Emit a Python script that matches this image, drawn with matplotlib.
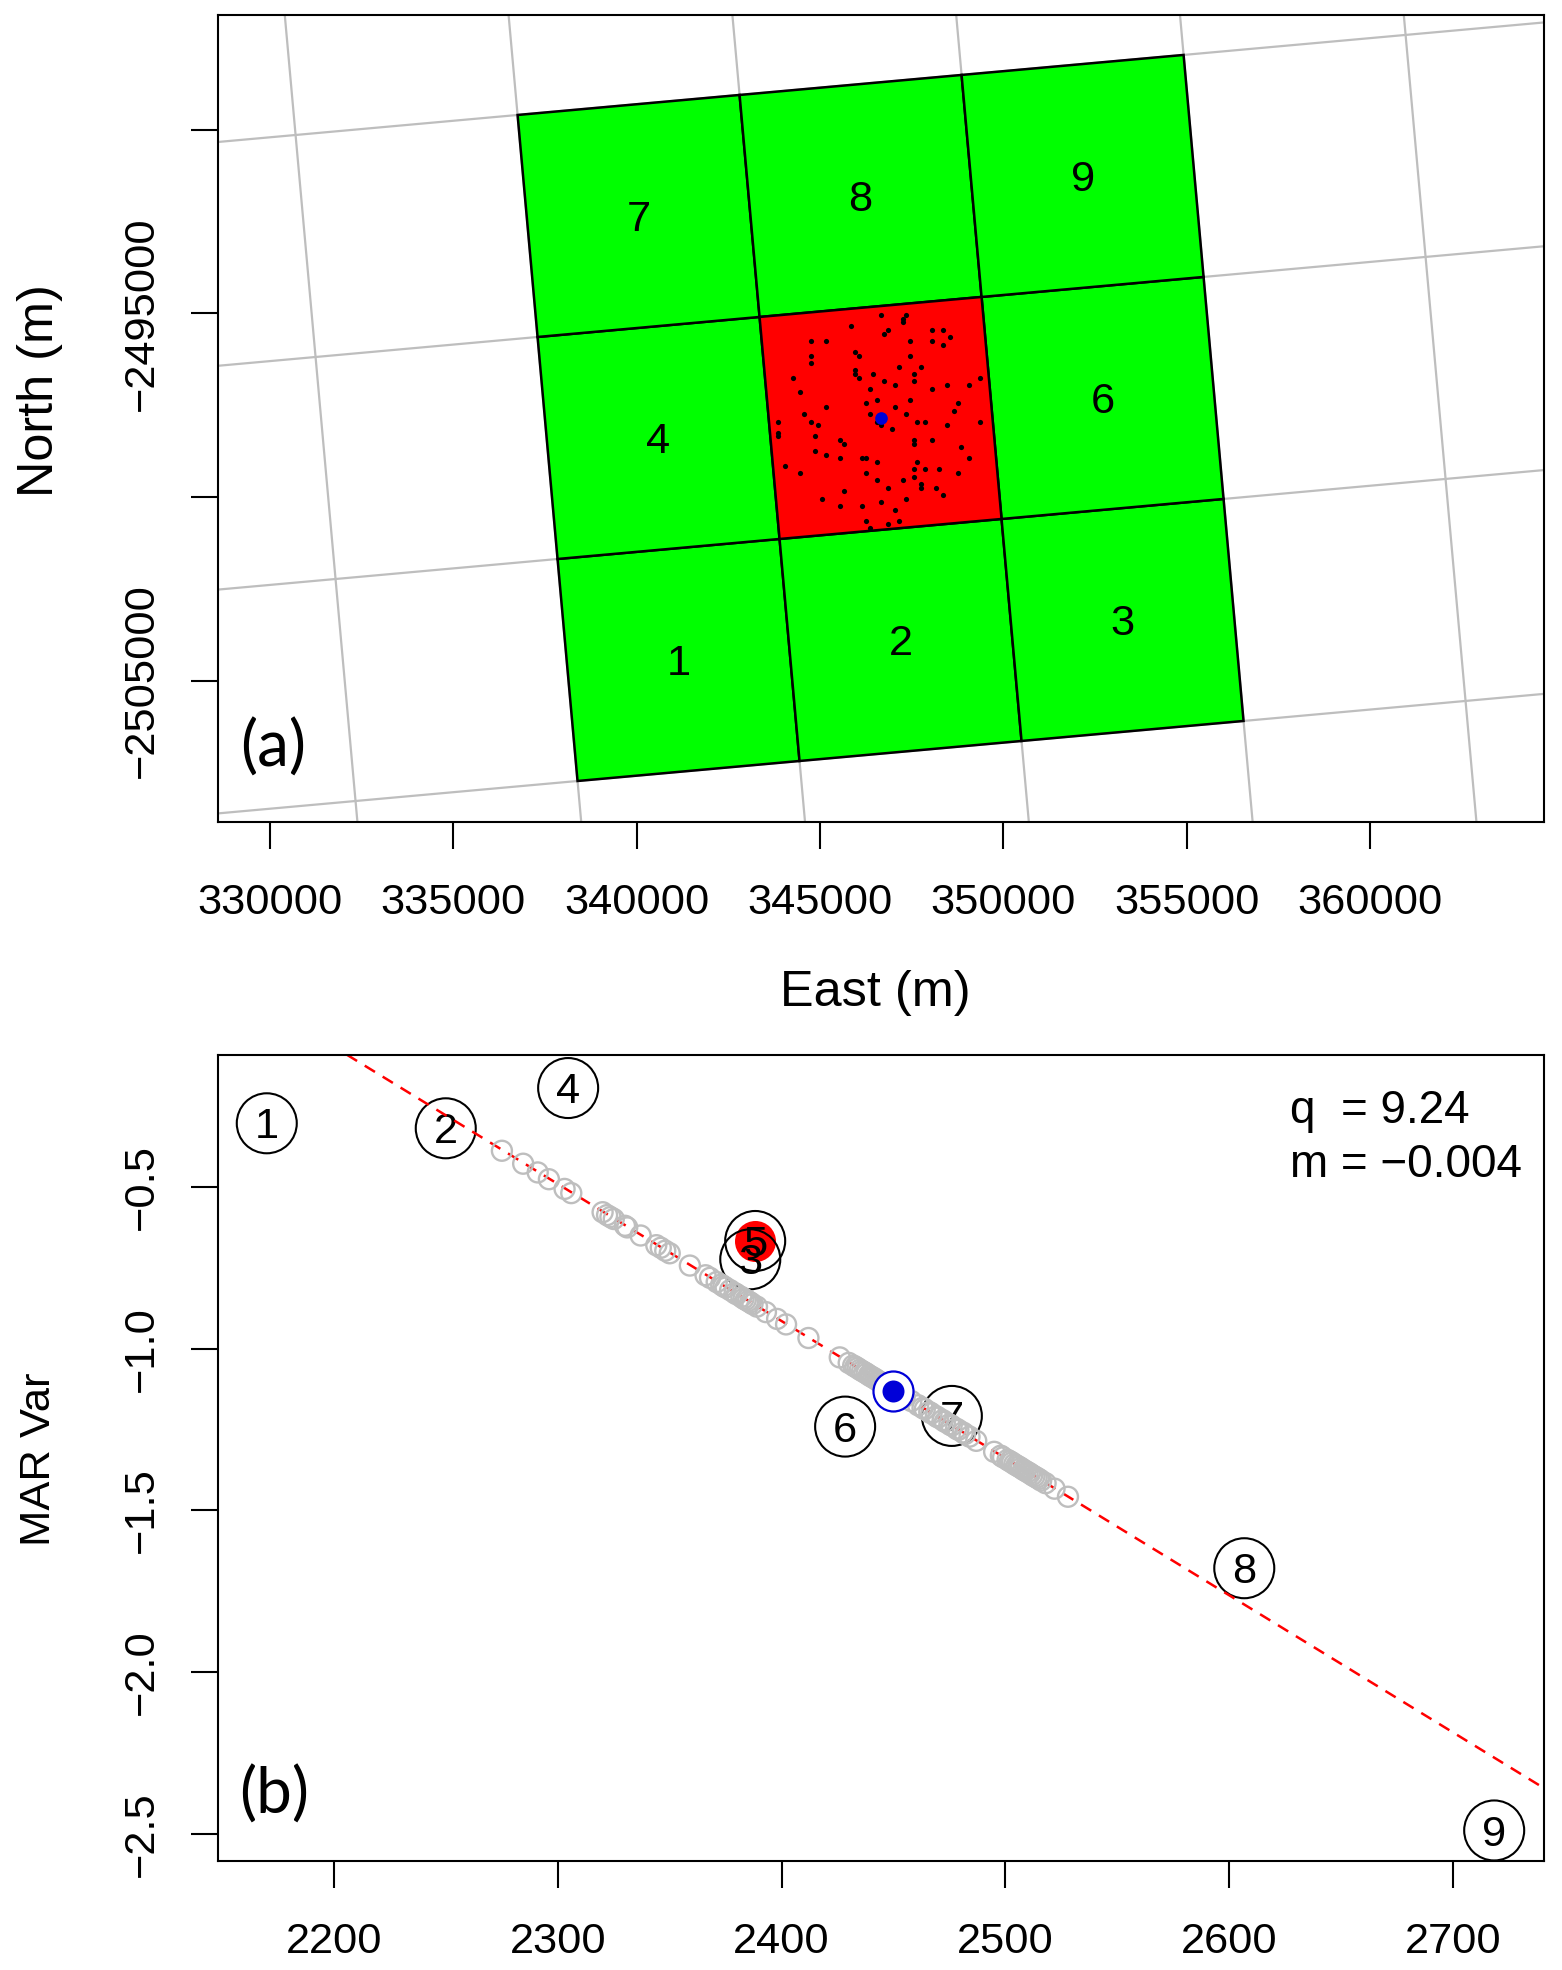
import numpy as np
import matplotlib
matplotlib.use("Agg")
import matplotlib.pyplot as plt
from matplotlib.patches import Polygon

# ---------- data: panel (a) ----------
east_ticks = [330000, 335000, 340000, 345000, 350000, 355000, 360000]
north_ticks = [-2490000, -2495000, -2500000, -2505000]
north_tick_labels = ["", "\u22122495000", "", "\u22122505000"]
centre_east, centre_north = 346650, -2497850
cell_east_vec = (6054, 545)
cell_north_vec = (-545, 6046)
cell_cols = [-1, 0, 1, -1, 1, -1, 0, 1]
cell_rows = [-1, -1, -1, 0, 0, 1, 1, 1]
cell_labels = ["1", "2", "3", "4", "6", "7", "8", "9"]
grid_col_edges = [-2.5, -1.5, -0.5, 0.5, 1.5, 2.5, 3.5]
grid_row_edges = [-2.5, -1.5, -0.5, 0.5, 1.5]
# site offsets from the cell centre, in hundreds of metres
site_e = [0, 7, 6, 6, -8, 2, 1, 14, 17, 19, -19, -15, 8, 14, 17, -7, -6, -19, 8, -19,
          5, 11, -7, -7, -6, -2, 9, -24, 27, 1, 9, 4, 18, 24, -3, 14, -22, -1, 8, -4,
          21, -15, 4, 20, -21, -3, 7, -28, -19, -1, 10, 12, 27, -17, 0, 18, 3, -28, -28, -18,
          -11, 9, 9, 14, -10, 22, -18, -15, -11, -5, -4, 24, -1, 10, -26, 9, 12, 16, -22, -4,
          21, 9, -1, 6, 11, 11, 2, 15, -10, 17, -16, 7, 0, -11, -5, 4, -4, 5, 2, -3]
site_n = [28, 28, 27, 26, 25, 24, 23, 24, 24, 22, 21, 21, 21, 21, 20, 18, 17, 17, 17, 15,
          14, 14, 13, 12, 11, 12, 12, 11, 11, 10, 10, 9, 9, 9, 8, 8, 7, 5, 5, 4,
          4, 3, 3, 2, 1, 1, 1, -1, -1, -1, -1, -1, -1, -2, -2, -2, -3, -4, -5, -5,
          -6, -6, -7, -6, -7, -8, -9, -10, -11, -11, -11, -11, -12, -12, -13, -14, -14, -14, -15, -15,
          -15, -16, -17, -17, -18, -19, -19, -19, -20, -21, -22, -22, -23, -24, -24, -25, -28, -28, -29, -30]

# ---------- data: panel (b) ----------
elev_ticks = [2200, 2300, 2400, 2500, 2600, 2700]
var_ticks = [-0.5, -1.0, -1.5, -2.0, -2.5]
var_tick_labels = ["\u22120.5", "\u22121.0", "\u22121.5", "\u22122.0", "\u22122.5"]
site_elev = [2275, 2284.5, 2291, 2296, 2303, 2306, 2320, 2322, 2323.5, 2325, 2330, 2331, 2337,
             2344, 2346, 2348, 2350, 2359, 2366, 2368, 2371, 2373, 2375, 2377, 2380, 2382,
             2384, 2386, 2389, 2393, 2398, 2402, 2412, 2426, 2430, 2432, 2434, 2436, 2438,
             2440, 2442, 2444, 2446, 2448, 2451, 2453, 2455, 2458, 2461, 2464, 2467, 2470,
             2473, 2476, 2479, 2482, 2487, 2495, 2498, 2501, 2503, 2505, 2508, 2510, 2512,
             2514, 2518, 2522, 2528,
             2374, 2379, 2383, 2385, 2387, 2433, 2435, 2437, 2439, 2441, 2443, 2445,
             2463, 2466, 2469, 2472, 2475, 2478, 2481, 2484,
             2499, 2502, 2504, 2506, 2507, 2509, 2511, 2513, 2515, 2516]
site_var = [-0.388, -0.428, -0.455, -0.476, -0.506, -0.519, -0.578, -0.587, -0.593, -0.599, -0.620,
            -0.625, -0.650, -0.680, -0.688, -0.697, -0.705, -0.743, -0.773, -0.781, -0.794, -0.802,
            -0.811, -0.819, -0.832, -0.840, -0.849, -0.857, -0.870, -0.887, -0.908, -0.925, -0.967,
            -1.027, -1.044, -1.052, -1.060, -1.069, -1.077, -1.086, -1.094, -1.103, -1.111, -1.120,
            -1.132, -1.141, -1.149, -1.162, -1.175, -1.187, -1.200, -1.213, -1.226, -1.238, -1.251,
            -1.264, -1.285, -1.319, -1.331, -1.344, -1.352, -1.361, -1.374, -1.382, -1.391, -1.399,
            -1.416, -1.433, -1.458,
            -0.807, -0.828, -0.845, -0.853, -0.862, -1.056, -1.065, -1.073, -1.082, -1.090, -1.099, -1.107,
            -1.183, -1.196, -1.209, -1.221, -1.234, -1.247, -1.259, -1.272,
            -1.336, -1.348, -1.357, -1.365, -1.369, -1.378, -1.386, -1.395, -1.403, -1.408]
cell_num = ["1", "2", "3", "4", "5", "6", "7", "8", "9"]
cell_elev = [2169.9, 2249.9, 2386.0, 2304.6, 2388.2, 2428.4, 2476.1, 2606.8, 2718.5]
cell_var = [-0.303, -0.3185, -0.7236, -0.194, -0.667, -1.241, -1.208, -1.679, -2.490]
centre_elev, centre_var = 2449.6, -1.130
fit_q, fit_m = 9.259, -0.004239

# ---------- style ----------
W, H = 1562, 1970
FONT = "Liberation Sans"
plt.rcParams["font.family"] = [FONT, "DejaVu Sans"]
FS = 31.2
LW = 1.5
GREY = "#BEBEBE"
BLUE = "#0000D8"


def axes_rect(left, right, top, bottom):
    return [left / W, 1 - bottom / H, (right - left) / W, (bottom - top) / H]


fig = plt.figure(figsize=(W / 100, H / 100), dpi=100, facecolor="white")
ax_a = fig.add_axes(axes_rect(218, 1544.3, 15.3, 821.7))
ax_b = fig.add_axes(axes_rect(218, 1544.3, 1054.7, 1860.8))

for ax in (ax_a, ax_b):
    for s in ax.spines.values():
        s.set_linewidth(LW)
        s.set_zorder(10)
    ax.tick_params(axis="both", length=19.4, width=LW, labelsize=FS, top=False, right=False)
    ax.tick_params(axis="x", pad=25)
    ax.tick_params(axis="y", pad=21)


def digit(ax, x, y, s, zorder):
    # baseline placement, dropped by half a digit height, so the digit is centred on its point
    ax.annotate(s, (x, y), xytext=(0, -FS * 0.35), textcoords="offset points",
                fontsize=FS, ha="center", va="baseline", color="black", zorder=zorder)


# ---------- panel (a) ----------
ex, en = np.array(cell_east_vec, float), np.array(cell_north_vec, float)
centre = np.array([centre_east, centre_north], float)


def grid_point(col, row):
    return centre + col * ex + row * en


for c in grid_col_edges:
    p0, p1 = grid_point(c, -6), grid_point(c, 6)
    ax_a.plot([p0[0], p1[0]], [p0[1], p1[1]], color=GREY, lw=1.6, zorder=1)
for r in grid_row_edges:
    p0, p1 = grid_point(-6, r), grid_point(6, r)
    ax_a.plot([p0[0], p1[0]], [p0[1], p1[1]], color=GREY, lw=1.6, zorder=1)


def cell_poly(col, row, face):
    pts = [grid_point(col + a, row + b) for a, b in
           [(-.5, -.5), (.5, -.5), (.5, .5), (-.5, .5)]]
    return Polygon(pts, closed=True, facecolor=face, edgecolor="black", lw=1.8, zorder=2)


for c, r, lab in zip(cell_cols, cell_rows, cell_labels):
    ax_a.add_patch(cell_poly(c, r, "#00FF00"))
    p = grid_point(c, r)
    digit(ax_a, p[0], p[1], lab, 4)
ax_a.add_patch(cell_poly(0, 0, "#FF0000"))
ax_a.scatter(centre_east + np.array(site_e) * 100, centre_north + np.array(site_n) * 100,
             s=14, color="black", linewidths=0, zorder=5)
ax_a.scatter([centre_east], [centre_north], s=83, color=BLUE, linewidths=0, zorder=6)

ax_a.set_xlim(328582, 364750)
ax_a.set_ylim(-2508845, -2486884)
ax_a.set_xticks(east_ticks)
ax_a.set_xticklabels([str(v) for v in east_ticks])
ax_a.set_yticks(north_ticks)
ax_a.set_yticklabels(north_tick_labels, rotation=90, va="center")

# ---------- panel (b) ----------
ax_b.scatter(cell_elev[4], cell_var[4], s=(41 * .72) ** 2, color="#FF0000", linewidths=0, zorder=1)
ax_b.scatter(cell_elev, cell_var, s=(60 * .72) ** 2, facecolors="none", edgecolors="black",
             linewidths=1.5, zorder=2, clip_on=False)
for x, y, lab in zip(cell_elev, cell_var, cell_num):
    digit(ax_b, x, y, lab, 2)
ax_b.axline((0, fit_q), slope=fit_m, color="#FF0000", lw=1.8, linestyle=(0, (4.8, 3.6)), zorder=3)
ax_b.scatter(site_elev, site_var, s=(20 * .72) ** 2, facecolors="none", edgecolors=GREY,
             linewidths=1.7, zorder=4)
ax_b.scatter([centre_elev], [centre_var], s=(40 * .72) ** 2, facecolors="white", edgecolors=BLUE,
             linewidths=1.6, zorder=5)
ax_b.scatter([centre_elev], [centre_var], s=(22 * .72) ** 2, color=BLUE, linewidths=0, zorder=6)

ax_b.set_xlim(2148.1, 2740.9)
ax_b.set_ylim(-2.5838, -0.0909)
ax_b.set_xticks(elev_ticks)
ax_b.set_xticklabels([str(v) for v in elev_ticks])
ax_b.set_yticks(var_ticks)
ax_b.set_yticklabels(var_tick_labels, rotation=90, va="center")


def px_text(x, y, s, **kw):
    fig.text(x / W, 1 - y / H, s, **kw)


px_text(875.5, 992.6, "East (m)", fontsize=36.3, ha="center", va="center")
px_text(40, 391, "North (m)", fontsize=36.3, ha="center", va="center", rotation=90)
px_text(39, 1459, "MAR Var", fontsize=31.3, ha="center", va="center", rotation=90)
px_text(273, 748, "(a)", fontsize=46, ha="center", va="center", family="Lato")
px_text(274, 1795, "(b)", fontsize=46, ha="center", va="center", family="Lato")
px_text(1290, 1123, "q  = 9.24", fontsize=33, ha="left", va="baseline")
px_text(1290, 1177, "m = \u22120.004", fontsize=33, ha="left", va="baseline")

fig.savefig("out.png", dpi=100, facecolor="white")
